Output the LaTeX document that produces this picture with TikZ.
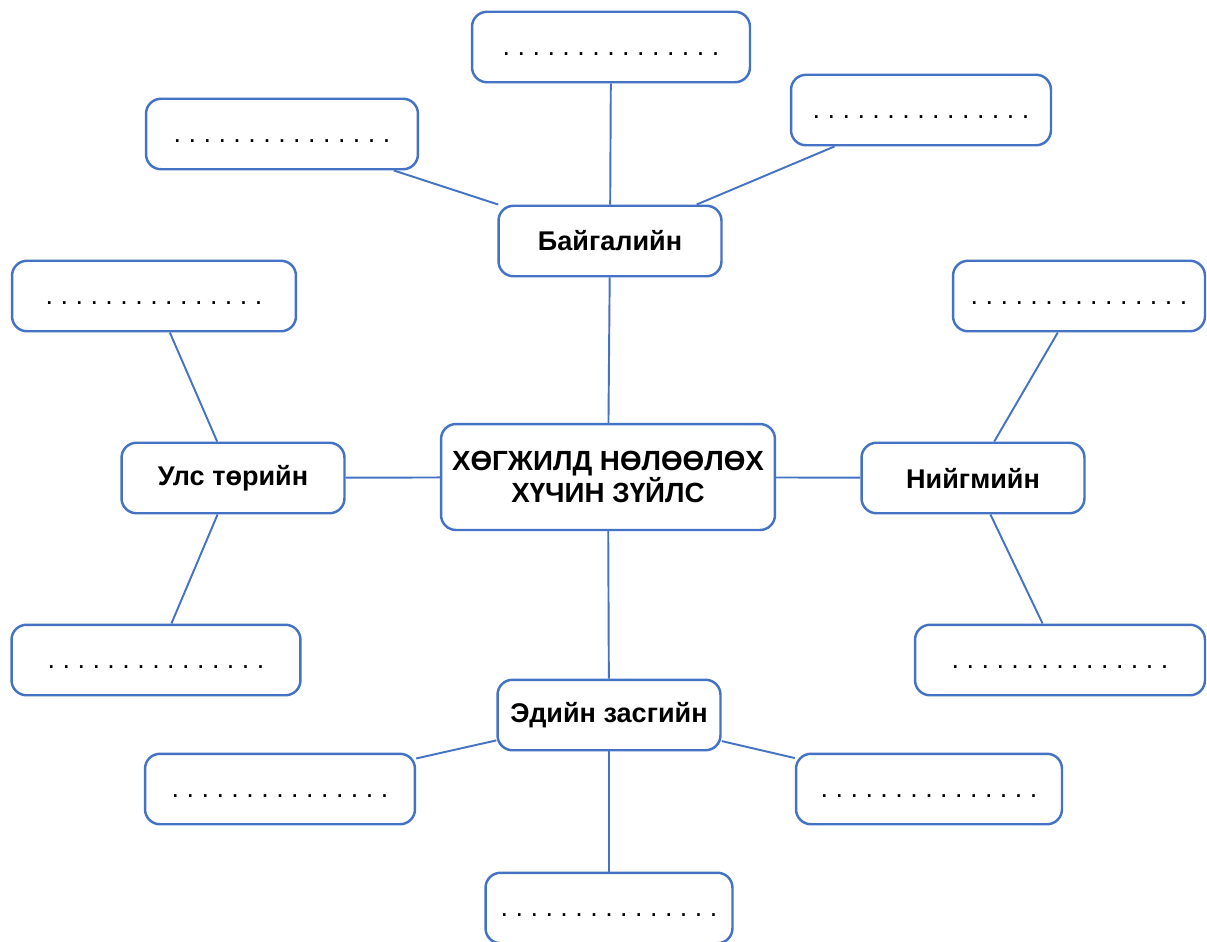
\documentclass[tikz,border=0pt]{standalone}
\usepackage{fontspec}
\setmainfont{Liberation Sans}
\usetikzlibrary{positioning}
\definecolor{mblue}{HTML}{4472C4}
\tikzstyle{box}=[draw=mblue, line width=1.4pt, rounded corners=0.3cm, fill=white, inner sep=0pt, minimum height=1.41cm]
\tikzstyle{dotbox}=[box, text height=0.32cm, text depth=0pt, font=\frenchspacing\fontsize{15.3}{18}\selectfont]
\tikzstyle{fbox}=[box, minimum width=4.46cm, font=\bfseries\fontsize{15.4}{18}\selectfont]
\tikzstyle{mainbox}=[box, minimum width=6.68cm, minimum height=2.12cm, align=center, font=\bfseries\fontsize{15.8}{14.7}\selectfont]
\tikzstyle{l1}=[draw=mblue, line width=1.1pt]
\newcommand{\blank}{. . . . . . . . . . . . . . .}

\begin{document}
\begin{tikzpicture}[x=0.02cm, y=-0.02cm]
    \useasboundingbox (0,0) rectangle (1207,941);

    % centre and the four factors
    \node[mainbox] at (608,477) (main) {ХӨГЖИЛД НӨЛӨӨЛӨХ\\ХҮЧИН ЗҮЙЛС};
    \node[fbox] at (610,241) (nature) {Байгалийн};
    \node[fbox] at (233,478) (politics) {Улс төрийн};
    \node[fbox] at (973,478) (society) {Нийгмийн};
    \node[fbox] at (609,715) (economy) {Эдийн засгийн};

    % blanks
    \node[dotbox, minimum width=5.56cm] at (611,47) (n0) {\blank};
    \node[dotbox, minimum width=5.44cm] at (282,134) (n1) {\blank};
    \node[dotbox, minimum width=5.20cm] at (921,110) (n2) {\blank};
    \node[dotbox, minimum width=5.68cm] at (154,296) (p0) {\blank};
    \node[dotbox, minimum width=5.78cm] at (156,660) (p1) {\blank};
    \node[dotbox, minimum width=5.04cm] at (1079,296) (s0) {\blank};
    \node[dotbox, minimum width=5.80cm] at (1060,660) (s1) {\blank};
    \node[dotbox, minimum width=5.40cm] at (280,789) (e0) {\blank};
    \node[dotbox, minimum width=5.32cm] at (929,789) (e1) {\blank};
    \node[dotbox, minimum width=4.94cm] at (609,908) (e2) {\blank};

    \draw[l1] (main) -- (nature);
    \draw[l1] (main) -- (politics);
    \draw[l1] (main) -- (society);
    \draw[l1] (main) -- (economy);
    \draw[l1] (nature) -- (n0);
    \draw[l1] (nature) -- (n1);
    \draw[l1] (nature) -- (n2);
    \draw[l1] (politics) -- (p0);
    \draw[l1] (politics) -- (p1);
    \draw[l1] (society) -- (s0);
    \draw[l1] (society) -- (s1);
    \draw[l1] (economy) -- (e0);
    \draw[l1] (economy) -- (e1);
    \draw[l1] (economy) -- (e2);
\end{tikzpicture}
\end{document}
